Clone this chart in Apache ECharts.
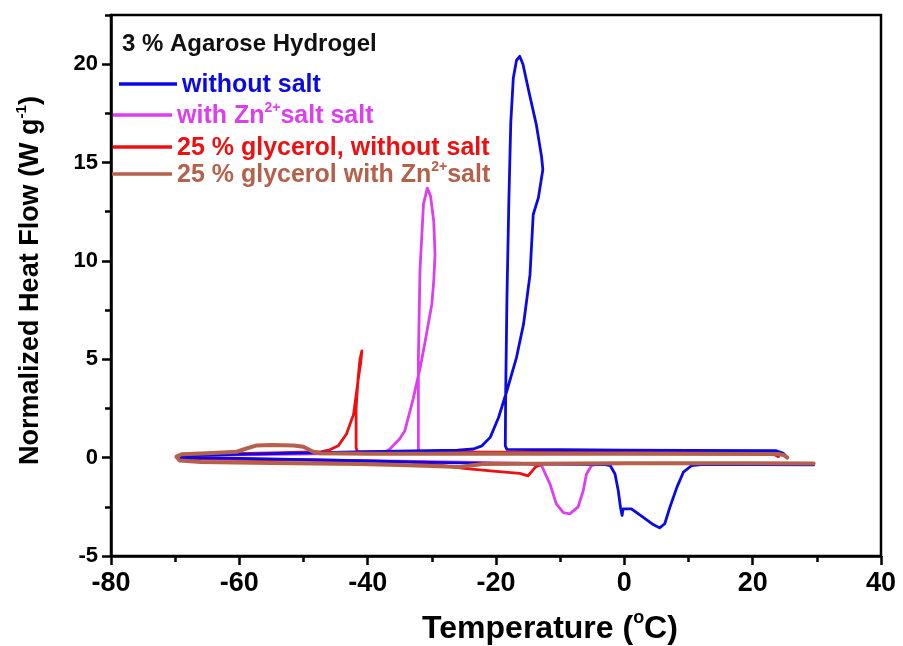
<!DOCTYPE html>
<html>
<head>
<meta charset="utf-8">
<script src="https://cdn.jsdelivr.net/npm/echarts@6/dist/echarts.min.js"></script>
<style>html,body{margin:0;padding:0;background:#fff}#c{width:903px;height:646px}</style>
</head>
<body>
<div id="c"></div>
<script>
// ---- data (temperature °C, heat flow W/g) ----
const seriesNames = ['without salt', 'with Zn2+salt salt', '25 % glycerol, without salt', '25 % glycerol with Zn2+salt'];
const xTicks = [-80, -60, -40, -20, 0, 20, 40];
const yTicks = [-5, 0, 5, 10, 15, 20];

const blueT = [25.4,24.8,23.7,10,0,-10,-18.3,-18.55,-18.5,-18.3,-18.0,-17.7,-17.3,-16.8,-16.3,-15.8,-14.8,-13.7,-12.9,-12.7,-13.4,-14.2,-14.7,-15.7,-16.8,-18.3,-19.6,-20.9,-22.2,-23.5,-26,-40,-55,-67,-69.2,-69.6,-69.2,-60,-50,-40,-30,-20,-10,-3,-2.2,-1.45,-0.95,-0.6,-0.35,-0.2,1.1,2.9,4.5,5.5,6.3,7.1,8.2,9.2,10.5,12,20,29.5];
const blueQ = [0.0,0.22,0.35,0.37,0.38,0.4,0.42,0.6,3,8,13,17,19.3,20.2,20.4,20.0,18.5,16.9,15.3,14.64,13.2,12.36,9.3,6.8,5.1,3.4,2.04,1.03,0.6,0.44,0.38,0.3,0.2,0.12,0.08,0.03,0.0,-0.04,-0.1,-0.17,-0.24,-0.29,-0.33,-0.35,-0.4,-0.83,-1.67,-2.52,-2.94,-2.6,-2.6,-3.03,-3.4,-3.57,-3.36,-2.52,-1.5,-0.74,-0.4,-0.35,-0.36,-0.37];

const magT = [24,23,22,0,-20,-32.0,-32.1,-32.1,-32.1,-31.85,-31.3,-30.7,-30.2,-29.7,-29.5,-29.7,-30.0,-31.1,-31.8,-32.9,-34.2,-35,-36.5,-37.3,-45,-60,-69,-69.5,-69,-50,-30,-16.3,-12.9,-11.6,-10.6,-9.5,-8.5,-7.2,-6.4,-5.9,-5.1,-4.05,0,29];
const magQ = [0.05,0.22,0.25,0.25,0.26,0.27,0.5,3,5,9.5,12.9,13.7,13.3,12,10.3,9,7.8,5.8,4.6,3.0,1.37,0.96,0.45,0.27,0.2,0.14,0.08,0.02,-0.02,-0.1,-0.2,-0.28,-0.4,-1.33,-2.35,-2.8,-2.86,-2.5,-1.67,-0.83,-0.4,-0.32,-0.3,-0.32];

const redT = [24,23,0,-20,-41.6,-41.8,-41.8,-41.5,-41.2,-40.9,-41.1,-41.5,-42.2,-43.3,-44.6,-45.9,-47.2,-55,-69,-69.6,-69,-50,-34,-30,-25,-20,-16.3,-15,-13.9,-12.9,0,29];
const redQ = [0.05,0.25,0.27,0.28,0.3,0.5,2.5,4,5,5.43,4.8,3.9,2.2,1.2,0.6,0.4,0.3,0.24,0.15,0.05,-0.05,-0.12,-0.22,-0.33,-0.55,-0.7,-0.8,-0.93,-0.49,-0.32,-0.3,-0.3];

const brownT = [25.4,24.9,24,0,-20,-40,-47.4,-48.5,-50,-51.5,-55,-57.3,-59,-60.4,-65,-69,-69.8,-69.3,-66,-55,-41.2,-35,-30,-25.6,-24,-22,0,20,29.5];
const brownQ = [0.0,0.12,0.19,0.2,0.2,0.2,0.22,0.3,0.55,0.62,0.64,0.62,0.45,0.3,0.22,0.17,0.05,-0.15,-0.22,-0.27,-0.32,-0.38,-0.43,-0.48,-0.4,-0.32,-0.28,-0.28,-0.3];

const colors = ['#0a0ae6', '#dd3ef0', '#ee1010', '#b5604a'];
const zip = (a, b) => a.map((v, i) => [v, b[i]]);
const seriesData = [zip(blueT, blueQ), zip(magT, magQ), zip(redT, redQ), zip(brownT, brownQ)];
const widths = [2.8, 2.8, 2.8, 4];
const drawOrder = [1, 2, 0, 3];

const FONT = 'Liberation Sans, Arial, sans-serif';
const legendLabels = [
  '{t|without salt}',
  '{t|with Zn}{s|2+}{t|salt salt}',
  '{t|25 % glycerol, without salt}',
  '{t|25 % glycerol with Zn}{s|2+}{t|salt}'
];
const legendTops = [73, 101, 136, 160];
const legendLefts = [119, 113, 113, 112];
const legendWidths = [58, 59, 59, 60];

const chart = echarts.init(document.getElementById('c'), null, {renderer: 'canvas'});
const legends = seriesNames.map((n, i) => ({
  data: [n],
  left: legendLefts[i], top: legendTops[i],
  padding: 0,
  orient: 'vertical',
  icon: 'rect', itemWidth: legendWidths[i], itemHeight: 3.5,
  selectedMode: false,
  formatter: () => legendLabels[i],
  textStyle: {
    rich: {
      t: {fontSize: 25, fontWeight: 'bold', fontFamily: FONT, color: colors[i], lineHeight: 28, verticalAlign: 'bottom'},
      s: {fontSize: 14, fontWeight: 'bold', fontFamily: FONT, color: colors[i], lineHeight: 28, verticalAlign: 'top', padding: [0, 0, 10, 0]}
    }
  }
}));

const option = {
  animation: false,
  backgroundColor: '#fff',
  title: {
    text: '3 % Agarose Hydrogel', left: 122, top: 32, padding: 0,
    textStyle: {fontSize: 24, fontWeight: 'bold', fontFamily: FONT, color: '#111'}
  },
  legend: legends,
  grid: {left: 111, right: 22, top: 15, bottom: 90, show: true, borderColor: '#000', borderWidth: 2.5,
    containLabel: false, outerBoundsMode: 'none'},
  xAxis: [{
    type: 'value', min: xTicks[0], max: xTicks[xTicks.length - 1], interval: 20,
    axisLine: {onZero: false, lineStyle: {color: '#000', width: 2.5}},
    axisTick: {show: true, length: 9, lineStyle: {width: 2.5, color: '#000'}},
    minorTick: {show: true, splitNumber: 2, length: 6, lineStyle: {width: 2.5, color: '#000'}},
    splitLine: {show: false},
    axisLabel: {margin: 14, fontSize: 27, fontWeight: 'bold', fontFamily: FONT, color: '#000'},
    name: '{a|Temperature (}{s|o}{a|C)}', nameLocation: 'middle', nameGap: 53,
    nameTextStyle: {
      padding: [0, 0, 0, 108],
      rich: {
        a: {fontSize: 32, fontWeight: 'bold', fontFamily: FONT, color: '#000', lineHeight: 36, verticalAlign: 'bottom'},
        s: {fontSize: 18, fontWeight: 'bold', fontFamily: FONT, color: '#000', lineHeight: 36, verticalAlign: 'top', padding: [0, 0, 12, 0]}
      }
    }
  }],
  yAxis: [{
    type: 'value', min: yTicks[0], max: 22.5, interval: 5,
    axisLine: {onZero: false, lineStyle: {color: '#000', width: 2.5}},
    axisTick: {show: true, length: 9, lineStyle: {width: 2.5, color: '#000'}},
    splitLine: {show: false},
    axisLabel: {margin: 13, fontSize: 22, fontWeight: 'bold', fontFamily: FONT, color: '#000', showMaxLabel: false,
      formatter: v => (yTicks.indexOf(v) >= 0 ? String(v) : '')},
    name: '{a|Normalized Heat Flow (W g}{s|-1}{a|)}', nameLocation: 'middle', nameGap: 67, nameRotate: 90,
    nameTextStyle: {
      padding: [0, 0, 0, 10],
      rich: {
        a: {fontSize: 27, fontWeight: 'bold', fontFamily: FONT, color: '#000', lineHeight: 30, verticalAlign: 'bottom'},
        s: {fontSize: 15, fontWeight: 'bold', fontFamily: FONT, color: '#000', lineHeight: 30, verticalAlign: 'top', padding: [0, 0, 10, 0]}
      }
    }
  }, {
    type: 'value', min: yTicks[0], max: 22.5, interval: 2.5, position: 'left',
    axisLine: {show: false, onZero: false},
    axisTick: {show: true, length: 6, lineStyle: {width: 2.5, color: '#000'}},
    splitLine: {show: false},
    axisLabel: {show: false}
  }],
  series: drawOrder.map((i, k) => ({
    name: seriesNames[i], type: 'line', xAxisIndex: 0, yAxisIndex: 0,
    data: seriesData[i], showSymbol: false, symbol: 'none', smooth: false,
    lineStyle: {color: colors[i], width: widths[i], cap: 'round', join: 'round'},
    itemStyle: {color: colors[i]}, z: 2 + k
  }))
};
chart.setOption(option);
</script>
</body>
</html>
